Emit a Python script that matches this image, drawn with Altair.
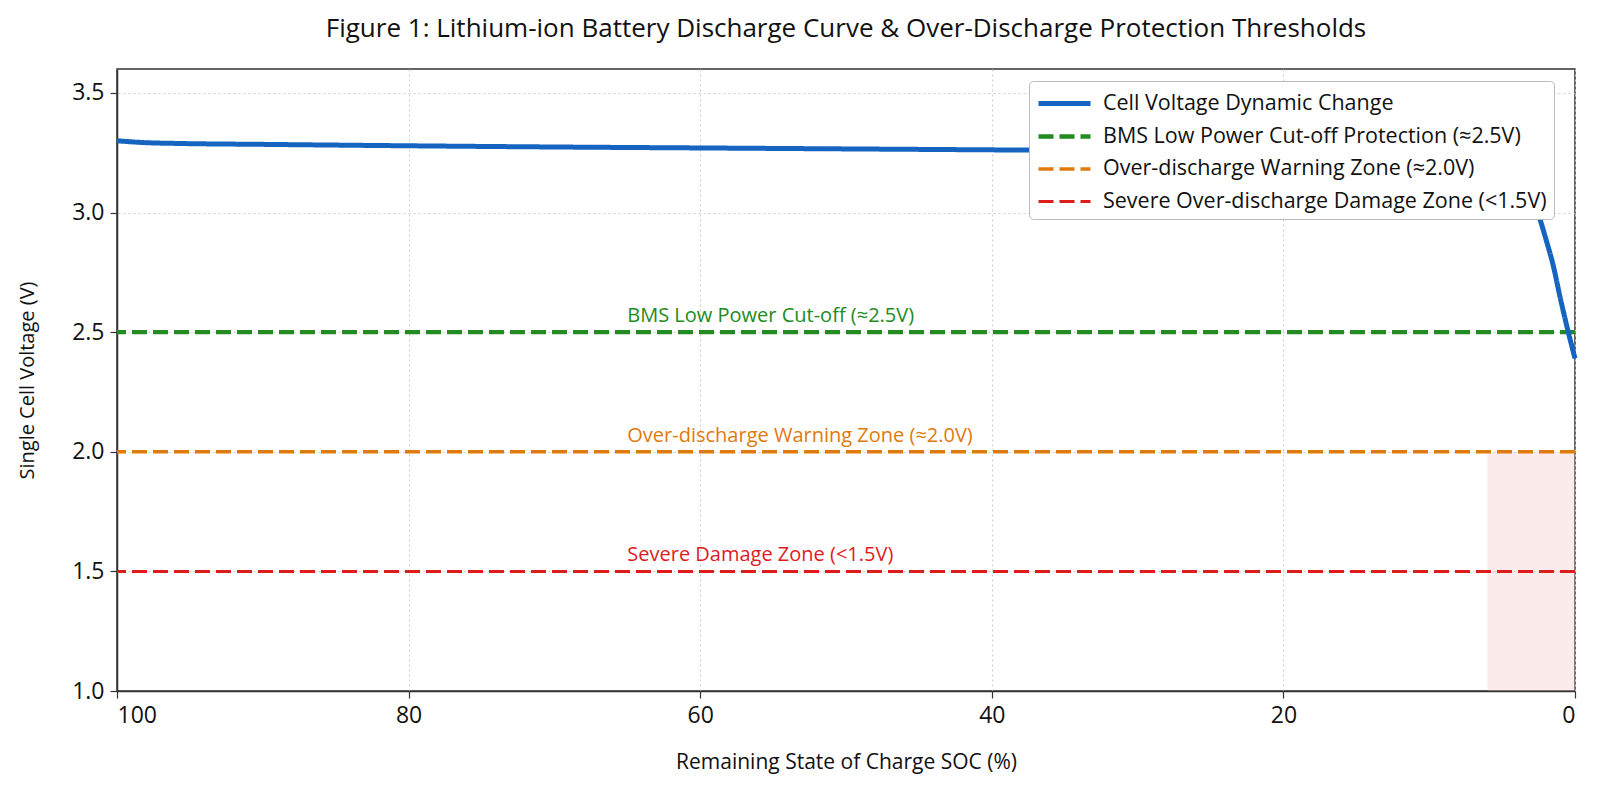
import altair as alt
import pandas as pd

# ---- data ----
soc = [100, 98, 96, 90, 80, 70, 60, 50, 40, 30, 20, 15, 10, 8, 6, 5, 4, 3, 2.5, 2, 1.5, 1, 0.5, 0]
volt = [3.300, 3.292, 3.289, 3.285, 3.279, 3.274, 3.270, 3.266, 3.262, 3.258, 3.253, 3.250,
        3.245, 3.238, 3.225, 3.200, 3.150, 3.070, 2.990, 2.890, 2.780, 2.640, 2.510, 2.390]

series_names = [
    "Cell Voltage Dynamic Change",
    "BMS Low Power Cut-off Protection (≈2.5V)",
    "Over-discharge Warning Zone (≈2.0V)",
    "Severe Over-discharge Damage Zone (<1.5V)",
]
series_colors = ["#1565C0", "#228B22", "#DF7A0C", "#DD1C1C"]
threshold_v = [2.5, 2.0, 1.5]
annot_text = ["BMS Low Power Cut-off (≈2.5V)", "Over-discharge Warning Zone (≈2.0V)", "Severe Damage Zone (<1.5V)"]
annot_soc = [65, 65, 65]
zone_soc = [6, 0]
zone_v = [1.0, 2.0]

x_ticks = [100, 80, 60, 40, 20, 0]
y_ticks = [1.0, 1.5, 2.0, 2.5, 3.0, 3.5]

FONT = "Open Sans"

curve_df = pd.DataFrame({"soc": soc, "v": volt, "series": series_names[0]})
thr_df = pd.DataFrame({
    "v": threshold_v,
    "series": series_names[1:],
    "label": annot_text,
    "soc": annot_soc,
    "tcolor": series_colors[1:],
})
zone_df = pd.DataFrame({"x1": [zone_soc[0]], "x2": [zone_soc[1]], "y1": [zone_v[0]], "y2": [zone_v[1]]})

xscale = alt.Scale(domain=[0, 100], reverse=True, nice=False, zero=False)
yscale = alt.Scale(domain=[1.0, 3.6], nice=False, zero=False)

xaxis = alt.Axis(values=x_ticks, format="d", title="Remaining State of Charge SOC (%)")
yaxis = alt.Axis(values=y_ticks, format=".1f", title="Single Cell Voltage (V)")

leg = alt.Legend(
    title=None, orient="none", legendX=912, legendY=12,
    symbolType="M-1,0H3", symbolSize=676, labelFontSize=21.5, labelFont=FONT,
    labelColor="#111", fillColor="white", strokeColor="#bbbbbb", padding=7,
    cornerRadius=4, rowPadding=7, labelOffset=36, labelLimit=600,
)

color = alt.Color("series:N", scale=alt.Scale(domain=series_names, range=series_colors), legend=leg)
dash = alt.StrokeDash("series:N", scale=alt.Scale(domain=series_names,
                      range=[[1, 0], [15, 6], [15, 6], [15, 6]]), legend=leg)
width = alt.StrokeWidth("series:N", scale=alt.Scale(domain=series_names, range=[5, 3, 3, 3]), legend=leg)

zone = alt.Chart(zone_df).mark_rect(color="#F4B6B6", opacity=0.28).encode(
    x=alt.X("x1:Q", scale=xscale, axis=xaxis),
    x2="x2:Q",
    y=alt.Y("y1:Q", scale=yscale, axis=yaxis),
    y2="y2:Q",
)

rules = alt.Chart(thr_df).mark_rule().encode(
    y=alt.Y("v:Q", scale=yscale),
    color=color, strokeDash=dash, strokeWidth=width,
)

curve = alt.Chart(curve_df).mark_line(interpolate="monotone", strokeCap="butt").encode(
    x=alt.X("soc:Q", scale=xscale),
    y=alt.Y("v:Q", scale=yscale),
    color=color, strokeDash=dash, strokeWidth=width,
)

labels = alt.Chart(thr_df).mark_text(align="left", baseline="alphabetic", dy=-10,
                                     fontSize=20, font=FONT).encode(
    x=alt.X("soc:Q", scale=xscale),
    y=alt.Y("v:Q", scale=yscale),
    text="label:N",
    color=alt.Color("tcolor:N", scale=None),
)

chart = alt.layer(zone, rules, curve, labels).properties(
    width=1458, height=622,
    autosize=alt.AutoSizeParams(type="none"),
    padding={"left": 109, "top": 61, "right": 17, "bottom": 93},
    title=alt.TitleParams(
        "Figure 1: Lithium-ion Battery Discharge Curve & Over-Discharge Protection Thresholds",
        fontSize=26, font=FONT, fontWeight="normal", color="#111", anchor="middle", offset=27,
    ),
).configure_view(stroke="#333333", strokeWidth=1.5).configure_axis(
    labelFont=FONT, titleFont=FONT, labelFontSize=23, labelColor="#111", titleColor="#111",
    titleFontWeight="normal",
    domainColor="#333333", domainWidth=1.5, tickColor="#333333", tickSize=7, tickWidth=1.2,
    grid=True, gridColor="#cccccc", gridDash=[2, 3], gridWidth=1,
    labelPadding=6,
).configure_axisX(titlePadding=24, titleFontSize=21).configure_axisY(titlePadding=34, titleFontSize=20)

chart.save("out.html", embed_options={"renderer": "svg", "actions": False})
